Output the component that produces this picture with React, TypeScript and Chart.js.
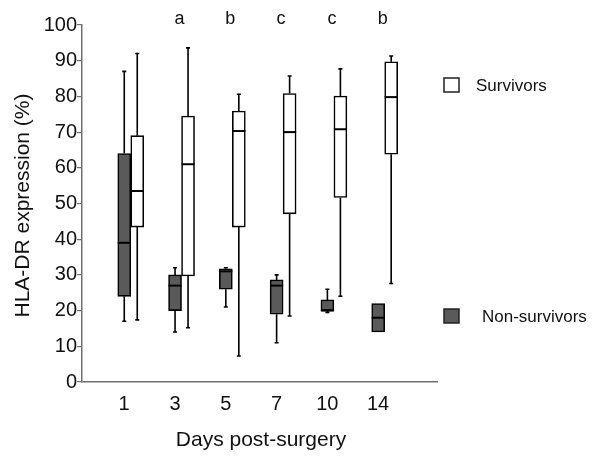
import React, { useEffect, useRef } from "react";
import { Chart, registerables } from "chart.js";

Chart.register(...registerables);

const days = ["1", "3", "5", "7", "10", "14"];
const significance = ["", "a", "b", "c", "c", "b"];

// Non-survivors
const nsMin = [17, 14, 21, 11, 19.5, 14];
const nsQ1 = [24, 20, 26, 19, 20, 14];
const nsMedian = [39, 27, 31, 27, 20, 18];
const nsQ3 = [64, 30, 31.7, 28.6, 23, 22];
const nsMax = [87, 32, 32, 30, 26, 22];

// Survivors
const sMin = [17.4, 15.2, 7.3, 18.5, 24, 27.6];
const sQ1 = [43.4, 29.7, 43.4, 47.1, 51.7, 63.8];
const sMedian = [53.5, 61, 70.3, 70, 70.8, 79.8];
const sQ3 = [69, 74.5, 75.9, 80.8, 80.1, 89.7];
const sMax = [92, 93.6, 80.6, 85.7, 87.7, 91.3];

const yTicks = [0, 10, 20, 30, 40, 50, 60, 70, 80, 90, 100];

const FONT = "Arial, 'Liberation Sans', sans-serif";
const AXIS_GREY = "#707070";
const NS_FILL = "#5a5a5a";
const S_FILL = "#ffffff";

const boxPlugin = {
  id: "boxExtras",
  afterDatasetsDraw(chart: any) {
    const ctx = chart.ctx;
    const y = chart.scales.y;
    const series = [
      { meta: chart.getDatasetMeta(0), min: nsMin, med: nsMedian, max: nsMax, q1: nsQ1, q3: nsQ3 },
      { meta: chart.getDatasetMeta(1), min: sMin, med: sMedian, max: sMax, q1: sQ1, q3: sQ3 },
    ];
    ctx.save();
    ctx.strokeStyle = "#000";
    series.forEach((s) => {
      s.meta.data.forEach((bar: any, i: number) => {
        const { x, width } = bar.getProps(["x", "width"], true);
        ctx.lineWidth = 1.6;
        if (s.max[i] > s.q3[i]) {
          const y0 = y.getPixelForValue(s.q3[i]);
          const y1 = y.getPixelForValue(s.max[i]);
          ctx.beginPath();
          ctx.moveTo(x, y0);
          ctx.lineTo(x, y1);
          ctx.moveTo(x - 2, y1);
          ctx.lineTo(x + 2, y1);
          ctx.stroke();
        }
        if (s.min[i] < s.q1[i]) {
          const y0 = y.getPixelForValue(s.q1[i]);
          const y1 = y.getPixelForValue(s.min[i]);
          ctx.beginPath();
          ctx.moveTo(x, y0);
          ctx.lineTo(x, y1);
          ctx.moveTo(x - 2, y1);
          ctx.lineTo(x + 2, y1);
          ctx.stroke();
        }
        ctx.lineWidth = 2;
        const ym = y.getPixelForValue(s.med[i]);
        ctx.beginPath();
        ctx.moveTo(x - width / 2, ym);
        ctx.lineTo(x + width / 2, ym);
        ctx.stroke();
      });
    });
    ctx.restore();
  },
  afterDraw(chart: any) {
    const ctx = chart.ctx;
    const area = chart.chartArea;
    const m0 = chart.getDatasetMeta(0);
    const m1 = chart.getDatasetMeta(1);
    ctx.save();
    ctx.fillStyle = "#111";
    // significance letters
    ctx.font = `18px ${FONT}`;
    ctx.textAlign = "center";
    ctx.textBaseline = "middle";
    significance.forEach((t, i) => {
      if (!t) return;
      const cx = (m0.data[i].x + m1.data[i].x) / 2 - 2;
      ctx.fillText(t, cx, area.top - 6);
    });
    // y title
    ctx.font = `21px ${FONT}`;
    ctx.save();
    ctx.translate(23, (area.top + area.bottom) / 2 + 2);
    ctx.rotate(-Math.PI / 2);
    ctx.fillText("HLA-DR expression (%)", 0, 0);
    ctx.restore();
    // x title
    ctx.fillText("Days post-surgery", 261, area.bottom + 58);
    // legend
    ctx.font = `17px ${FONT}`;
    ctx.textAlign = "left";
    const lx = area.right + 7;
    ctx.lineWidth = 1.5;
    ctx.strokeStyle = "#222";
    ctx.fillStyle = S_FILL;
    ctx.fillRect(lx, 78, 15, 14);
    ctx.strokeRect(lx, 78, 15, 14);
    ctx.fillStyle = NS_FILL;
    ctx.fillRect(lx, 309, 15, 14);
    ctx.strokeRect(lx, 309, 15, 14);
    ctx.fillStyle = "#111";
    ctx.fillText("Survivors", lx + 32, 86);
    ctx.fillText("Non-survivors", lx + 38, 317);
    ctx.restore();
  },
};

export default function App() {
  const ref = useRef<HTMLCanvasElement | null>(null);
  useEffect(() => {
    document.body.style.margin = "0";
    Chart.defaults.font.family = FONT;
    const tickShift = -0.13;
    const chart = new Chart(ref.current as HTMLCanvasElement, {
      type: "bar",
      data: {
        datasets: [
          {
            label: "Non-survivors",
            data: days.map((_, i) => ({ x: i, y: [nsQ1[i], nsQ3[i]] })) as any,
            backgroundColor: NS_FILL,
            borderColor: "#000",
            borderWidth: 1.6,
            borderSkipped: false,
            barThickness: 13,
          },
          {
            label: "Survivors",
            data: days.map((_, i) => ({ x: i, y: [sQ1[i], sQ3[i]] })) as any,
            backgroundColor: S_FILL,
            borderColor: "#000",
            borderWidth: 1.6,
            borderSkipped: false,
            barThickness: 13,
          },
        ],
      },
      options: {
        animation: false,
        responsive: false,
        layout: { padding: { left: 0, top: 25, right: 163, bottom: 0 } },
        plugins: { legend: { display: false }, tooltip: { enabled: false } },
        scales: {
          x: {
            type: "linear",
            offset: false,
            min: -0.96,
            max: 6.03,
            grid: { display: false, drawTicks: false, tickLength: 0, offset: false },
            border: { display: true, color: AXIS_GREY, width: 1.5 },
            afterBuildTicks: (axis: any) => {
              axis.ticks = days.map((_, i) => ({ value: i + tickShift }));
            },
            afterFit: (axis: any) => {
              axis.height = 87;
            },
            ticks: {
              autoSkip: false,
              maxRotation: 0,
              padding: 10,
              color: "#111",
              font: { size: 20, family: FONT },
              callback: (_v: any, i: number) => days[i],
            },
          },
          y: {
            min: 0,
            max: 100,
            afterBuildTicks: (axis: any) => {
              axis.ticks = yTicks.map((v) => ({ value: v }));
            },
            afterFit: (axis: any) => {
              axis.width = 82;
            },
            grid: { drawOnChartArea: false, drawTicks: true, tickLength: 5, color: AXIS_GREY, lineWidth: 1.2 },
            border: { display: true, color: AXIS_GREY, width: 1.5 },
            ticks: {
              padding: 0,
              color: "#111",
              font: { size: 20, family: FONT },
            },
          },
        },
      },
      plugins: [boxPlugin],
    } as any);
    return () => chart.destroy();
  }, []);
  return (
    <div style={{ width: 600, height: 469 }}>
      <canvas ref={ref} width={600} height={469} style={{ display: "block" }} />
    </div>
  );
}
